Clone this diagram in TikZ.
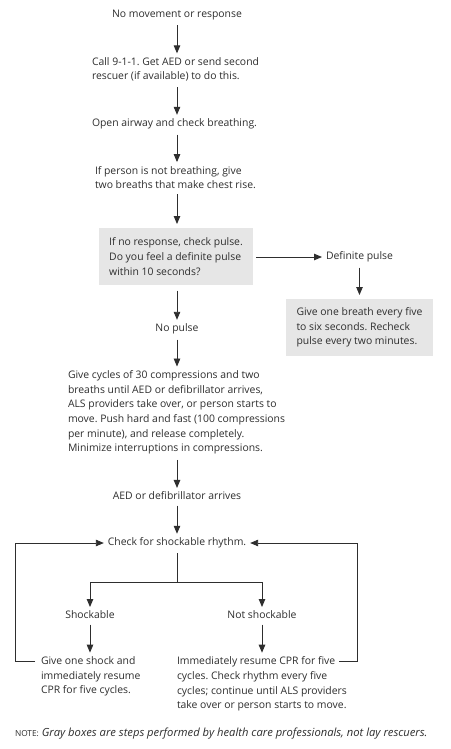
\documentclass[tikz,border=0pt]{standalone}
\usepackage{fontspec}
\setmainfont{Open Sans}
\usetikzlibrary{arrows.meta,calc}
\definecolor{ink}{HTML}{2E2E2E}
\definecolor{boxgray}{HTML}{E6E6E6}
\frenchspacing
\begin{document}
\begin{tikzpicture}[x=1pt,y=-1pt,
  txt/.style={inner sep=0pt, outer sep=0pt, text=ink, font=\fontsize{10.4}{14.7}\selectfont, align=left},
  arr/.style={draw=ink, line width=0.9pt, -{Triangle[length=8pt,width=6.5pt]}, shorten <=5.5pt, shorten >=4pt},
  ln/.style={draw=ink, line width=0.9pt},
  gbox/.style={txt, fill=boxgray, anchor=north west, minimum height=57pt, inner sep=0pt}]
\useasboundingbox[fill=white] (0,0) rectangle (450,749);
% nodes
\node[txt] (n1) at (177,15) {No movement or response};
\node[txt, anchor=west] (n2) at (92,69.5) {Call 9-1-1. Get AED or send second\\rescuer (if available) to do this.};
\node[txt, anchor=west] (n3) at (92,124) {Open airway and check breathing.};
\node[txt, anchor=west] (n4) at (95,177.5) {If person is not breathing, give\\two breaths that make chest rise.};
\node[gbox, minimum width=154pt] (b1) at (99,228) {If no response, check pulse.\\Do you feel a definite pulse\\within 10 seconds?};
\node[txt, anchor=west] (dp) at (326,257) {Definite pulse};
\node[gbox, minimum width=147pt] (b2) at (286,299) {Give one breath every five\\to six seconds. Recheck\\pulse every two minutes.};
\node[txt] (np) at (177,329) {No pulse};
\node[txt, anchor=west] (cyc) at (68,412.5) {Give cycles of 30 compressions and two\\breaths until AED or defibrillator arrives,\\ALS providers take over, or person starts to\\move. Push hard and fast (100 compressions\\per minute), and release completely.\\Minimize interruptions in compressions.};
\node[txt] (aed) at (177,496) {AED or defibrillator arrives};
\node[txt] (chk) at (177,543) {Check for shockable rhythm.};
\node[txt] (sh) at (90,615) {Shockable};
\node[txt] (ns) at (262,615) {Not shockable};
\node[txt, anchor=west] (gs) at (41,676.5) {Give one shock and\\immediately resume\\CPR for five cycles.};
\node[txt, anchor=west] (rs) at (177,684) {Immediately resume CPR for five\\cycles. Check rhythm every five\\cycles; continue until ALS providers\\take over or person starts to move.};
\node[txt, anchor=west, font=\fontsize{11.2}{13}\selectfont] (note) at (15,734) {{\fontsize{8.3}{10}\selectfont NOTE:} \textit{Gray boxes are steps performed by health care professionals, not lay rescuers.}};
% connectors
\draw[arr] (n1.south) -- (n1.south |- n2.north);
\draw[arr] (n1.south |- n2.south) -- (n1.south |- n3.north);
\draw[arr] (n1.south |- n3.south) -- (n1.south |- n4.north);
\draw[arr] (n1.south |- n4.south) -- (n1.south |- b1.north);
\draw[arr] (n1.south |- b1.south) -- (np.north);
\draw[arr, shorten <=3pt] (b1.east |- dp.west) -- (dp.west);
\draw[arr] (dp.south) -- (dp.south |- b2.north);
\draw[arr] (np.south) -- (np.south |- cyc.north);
\draw[arr] (np.south |- cyc.south) -- (aed.north);
\draw[arr] (aed.south) -- (chk.north);
\draw[ln] (chk.south) ++(0,5) -- ++(0,29) coordinate (br);
\draw[arr, shorten <=0pt] (br) -| (sh.north);
\draw[arr, shorten <=0pt] (br) -| (ns.north);
\draw[arr] (sh.south) -- (sh.south |- gs.north);
\draw[arr] (ns.south) -- (ns.south |- rs.north);
\coordinate (gsL) at (35,661);
\coordinate (rsR) at (339,661);
\draw[arr, shorten <=0pt] (gsL) -- (15,661) |- (chk.west);
\draw[arr, shorten <=0pt] (rsR) -- (357,661) |- (chk.east);
\end{tikzpicture}
\end{document}
